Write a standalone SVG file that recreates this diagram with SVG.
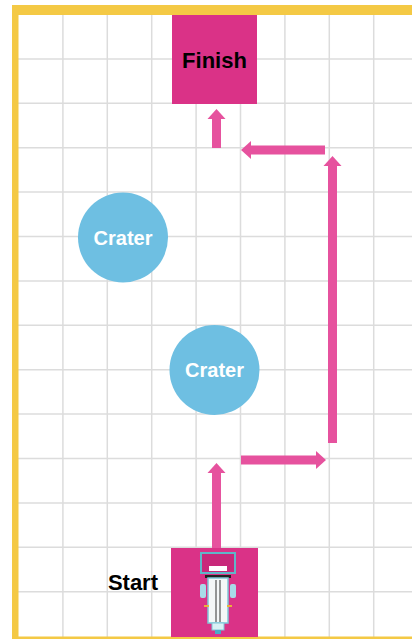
<svg xmlns="http://www.w3.org/2000/svg" width="412" height="639" viewBox="0 0 412 639">
<style>
.grid line{stroke:#dcdcdc;stroke-width:1.5}
.box{fill:#da3287}
.crater{fill:#6ebfe2}
.lbl{font-family:"Liberation Sans",Arial,sans-serif;font-weight:bold}
.conn line{stroke:#e6529e;stroke-width:9;fill:none}
</style>
<defs>
<marker id="head" markerUnits="userSpaceOnUse" markerWidth="11" markerHeight="18" refX="0" refY="9" orient="auto" overflow="visible">
<path d="M0,0 L10,9 L0,18 Z" fill="#e6529e"/>
</marker>
</defs>
<rect x="0" y="0" width="412" height="639" fill="#ffffff"/>
<g class="grid">
<line x1="62.9" y1="14" x2="62.9" y2="637"/>
<line x1="107.3" y1="14" x2="107.3" y2="637"/>
<line x1="151.7" y1="14" x2="151.7" y2="637"/>
<line x1="196.1" y1="14" x2="196.1" y2="637"/>
<line x1="240.5" y1="14" x2="240.5" y2="637"/>
<line x1="284.9" y1="14" x2="284.9" y2="637"/>
<line x1="329.3" y1="14" x2="329.3" y2="637"/>
<line x1="373.7" y1="14" x2="373.7" y2="637"/>
<line x1="18" y1="58.9" x2="412" y2="58.9"/>
<line x1="18" y1="103.3" x2="412" y2="103.3"/>
<line x1="18" y1="147.7" x2="412" y2="147.7"/>
<line x1="18" y1="192.1" x2="412" y2="192.1"/>
<line x1="18" y1="236.5" x2="412" y2="236.5"/>
<line x1="18" y1="280.9" x2="412" y2="280.9"/>
<line x1="18" y1="325.3" x2="412" y2="325.3"/>
<line x1="18" y1="369.7" x2="412" y2="369.7"/>
<line x1="18" y1="414.1" x2="412" y2="414.1"/>
<line x1="18" y1="458.5" x2="412" y2="458.5"/>
<line x1="18" y1="502.9" x2="412" y2="502.9"/>
<line x1="18" y1="547.3" x2="412" y2="547.3"/>
<line x1="18" y1="591.7" x2="412" y2="591.7"/>
</g>
<g id="border" fill="#f4c945">
<rect x="12" y="5" width="400" height="10"/>
<rect x="12" y="5" width="6.5" height="634"/>
<rect x="12" y="636.5" width="400" height="3"/>
</g>
<g id="finish">
<rect class="box" x="172" y="15" width="85" height="89"/>
<text class="lbl" x="214.5" y="68" font-size="22" text-anchor="middle" fill="#000000">Finish</text>
</g>
<g id="crater1">
<circle class="crater" cx="123" cy="237.5" r="45"/>
<text class="lbl" x="123" y="245" font-size="20" text-anchor="middle" fill="#ffffff">Crater</text>
</g>
<g id="crater2">
<circle class="crater" cx="214.5" cy="370" r="45"/>
<text class="lbl" x="214.5" y="377" font-size="20" text-anchor="middle" fill="#ffffff">Crater</text>
</g>
<g id="start">
<rect class="box" x="171" y="548" width="87" height="89"/>
<text class="lbl" x="158" y="590" font-size="22" text-anchor="end" fill="#000000">Start</text>
<g id="robot">
<rect x="201" y="553" width="34" height="20" fill="#c8287a" stroke="#5fb6c8" stroke-width="2"/>
<rect x="209" y="566" width="18" height="5" fill="#ffffff"/>
<rect x="205" y="575" width="26" height="3" fill="#222222"/>
<rect x="208" y="578" width="20" height="45" fill="#f4f7f8" stroke="#7fc6d8" stroke-width="1.5"/>
<line x1="216" y1="580" x2="216" y2="622" stroke="#333333" stroke-width="1"/>
<line x1="220" y1="580" x2="220" y2="622" stroke="#333333" stroke-width="1"/>
<rect x="200" y="584" width="6" height="14" rx="2" fill="#a8dbe8"/>
<rect x="230" y="584" width="6" height="14" rx="2" fill="#a8dbe8"/>
<rect x="204" y="605" width="5" height="2" fill="#e9b23a"/>
<rect x="227" y="605" width="5" height="2" fill="#e9b23a"/>
<rect x="212" y="623" width="12" height="7" fill="#d9f0f5" stroke="#7fc6d8" stroke-width="1"/>
<rect x="215" y="630" width="6" height="4" fill="#4aa8c8"/>
</g>
</g>
<g id="connectors" class="conn">
<line x1="216.5" y1="548" x2="216.5" y2="473" marker-end="url(#head)"/>
<line x1="241" y1="460" x2="316" y2="460" marker-end="url(#head)"/>
<line x1="332.5" y1="443" x2="332.5" y2="166" marker-end="url(#head)"/>
<line x1="325" y1="150" x2="251" y2="150" marker-end="url(#head)"/>
<line x1="216.5" y1="148" x2="216.5" y2="119" marker-end="url(#head)"/>
</g>
</svg>
